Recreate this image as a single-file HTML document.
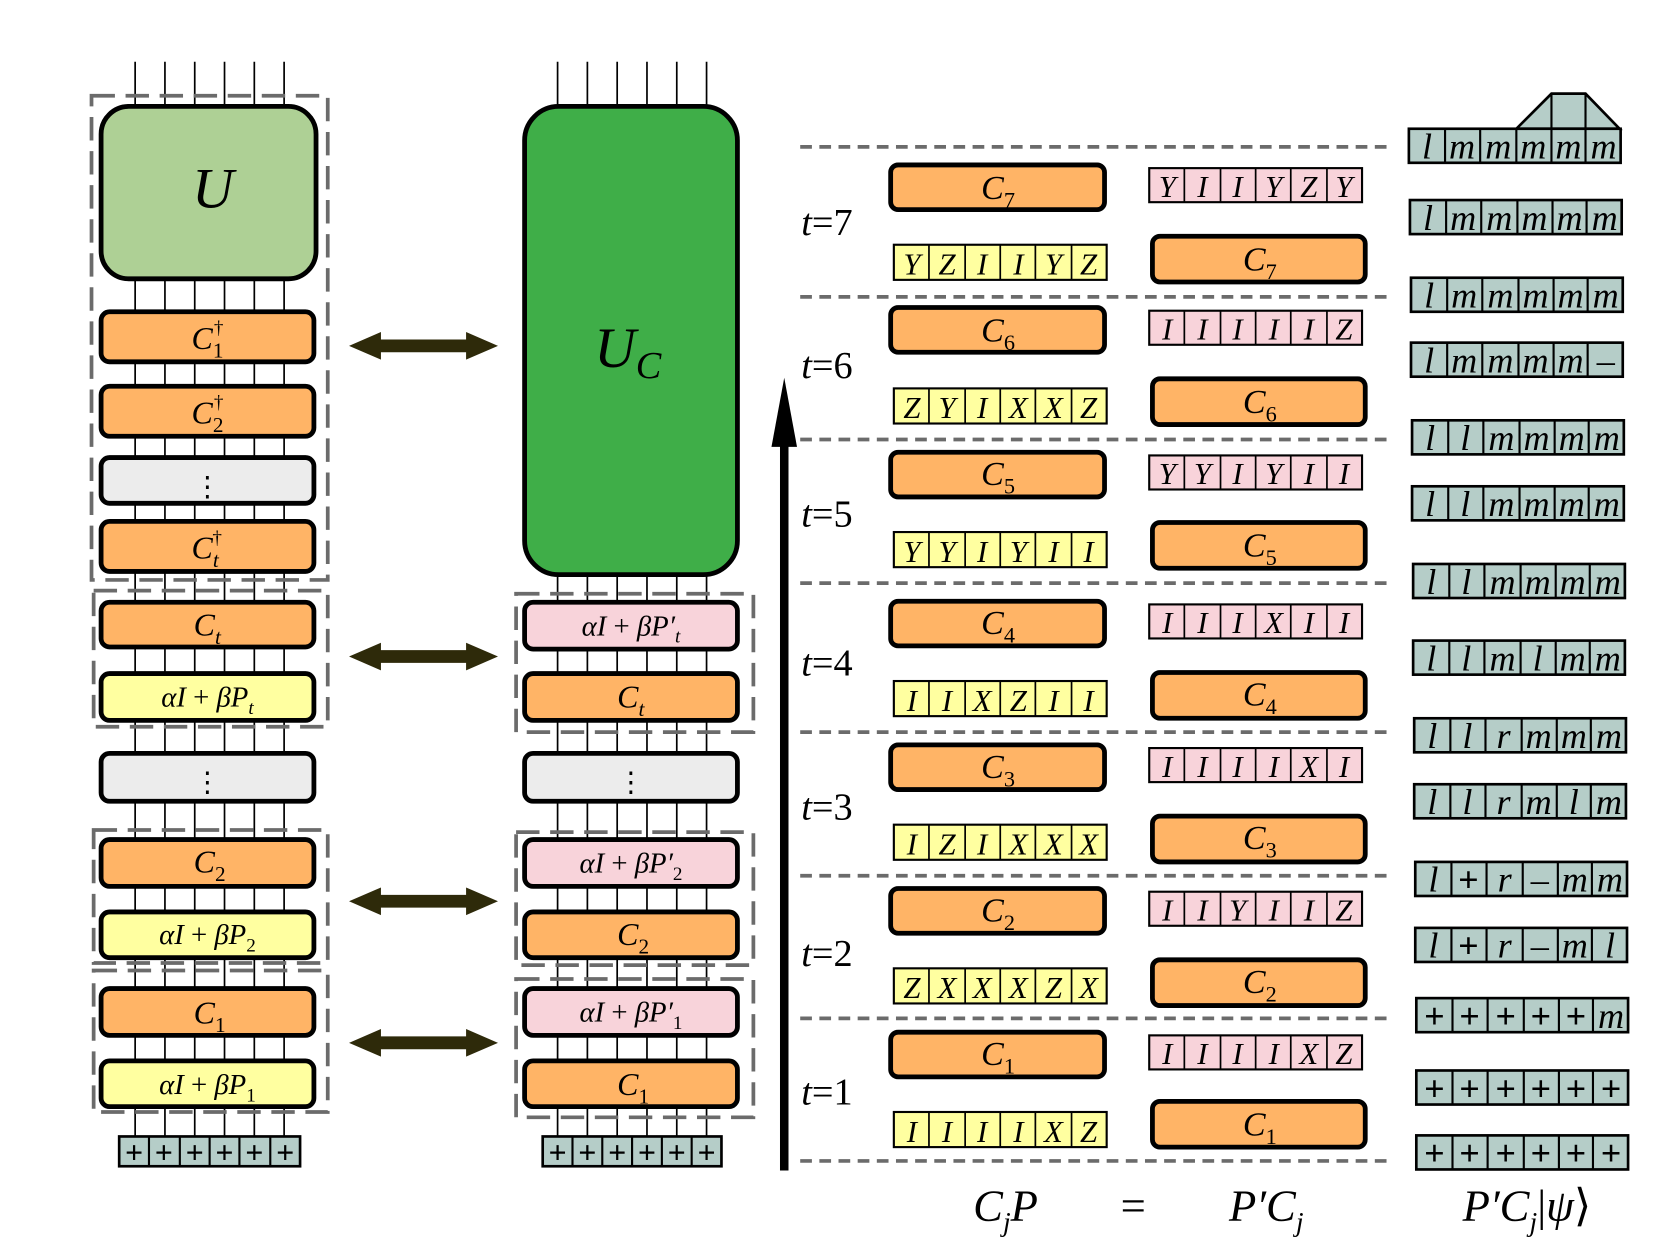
<!DOCTYPE html>
<html><head><meta charset="utf-8"><style>
html,body{margin:0;padding:0;background:#fff;}
svg{display:block;}
text{font-family:"Liberation Serif",serif;fill:#000;}
.c{text-anchor:middle;}
</style></head><body>
<svg width="1660" height="1245" viewBox="0 0 1560 1170" preserveAspectRatio="none" xmlns="http://www.w3.org/2000/svg" font-style="italic">
<defs>
<g id="dbl"><polygon points="0,0 30,-13 30,-6 110,-6 110,-13 140,0 110,13 110,6 30,6 30,13" fill="#2e2a0a"/></g>
</defs>
<g stroke="#000" stroke-width="1.6">
<line x1="127" y1="58" x2="127" y2="1068"/><line x1="155" y1="58" x2="155" y2="1068"/><line x1="183" y1="58" x2="183" y2="1068"/><line x1="211" y1="58" x2="211" y2="1068"/><line x1="239" y1="58" x2="239" y2="1068"/><line x1="267" y1="58" x2="267" y2="1068"/>
<line x1="524" y1="58" x2="524" y2="1068"/><line x1="552" y1="58" x2="552" y2="1068"/><line x1="580" y1="58" x2="580" y2="1068"/><line x1="608" y1="58" x2="608" y2="1068"/><line x1="636" y1="58" x2="636" y2="1068"/><line x1="664" y1="58" x2="664" y2="1068"/>
</g>
<g fill="none" stroke="#6b6b6b" stroke-width="3.5" stroke-dasharray="22,10">
<rect x="86" y="90" width="222" height="455"/>
<rect x="88" y="555" width="220" height="128"/>
<rect x="88" y="780" width="220" height="125"/>
<rect x="88" y="912" width="220" height="133"/>
<rect x="485" y="558" width="223" height="130"/>
<rect x="485" y="782" width="223" height="125"/>
<rect x="485" y="920" width="223" height="130"/>
</g>
<g stroke="#000" stroke-width="4.5">
<rect x="95" y="100" width="202" height="162" rx="26" fill="#aed095"/>
<rect x="95" y="293" width="200" height="47" rx="8" fill="#ffb466"/>
<rect x="95" y="363" width="200" height="47" rx="8" fill="#ffb466"/>
<rect x="95" y="430" width="200" height="43" rx="8" fill="#ececec"/>
<rect x="95" y="490" width="200" height="47" rx="8" fill="#ffb466"/>
<rect x="95" y="566" width="200" height="42" rx="8" fill="#ffb466"/>
<rect x="95" y="633" width="200" height="44" rx="8" fill="#ffffa0"/>
<rect x="95" y="708" width="200" height="45" rx="8" fill="#ececec"/>
<rect x="95" y="789" width="200" height="44" rx="8" fill="#ffb466"/>
<rect x="95" y="857" width="200" height="43" rx="8" fill="#ffffa0"/>
<rect x="95" y="929" width="200" height="44" rx="8" fill="#ffb466"/>
<rect x="95" y="997" width="200" height="43" rx="8" fill="#ffffa0"/>
<rect x="493" y="100" width="200" height="440" rx="32" fill="#3fae48"/>
<rect x="493" y="566" width="200" height="44" rx="8" fill="#f8d3da"/>
<rect x="493" y="633" width="200" height="44" rx="8" fill="#ffb466"/>
<rect x="493" y="708" width="200" height="45" rx="8" fill="#ececec"/>
<rect x="493" y="789" width="200" height="44" rx="8" fill="#f8d3da"/>
<rect x="493" y="857" width="200" height="43" rx="8" fill="#ffb466"/>
<rect x="493" y="929" width="200" height="44" rx="8" fill="#f8d3da"/>
<rect x="493" y="997" width="200" height="43" rx="8" fill="#ffb466"/>
</g>
<g font-size="30">
<text x="200" y="195" class="c" font-size="54">U</text>
<text x="590" y="345" class="c" font-size="54">U<tspan font-size="36" dy="10">C</tspan></text>
<text x="180" y="328">C<tspan font-size="20" dy="8" font-style="normal">1</tspan><tspan font-size="18" dx="-9" dy="-22" font-style="normal">†</tspan></text>
<text x="180" y="398">C<tspan font-size="20" dy="8" font-style="normal">2</tspan><tspan font-size="18" dx="-9" dy="-22" font-style="normal">†</tspan></text>
<text x="180" y="525">C<tspan font-size="20" dy="8">t</tspan><tspan font-size="18" dx="-6" dy="-22" font-style="normal">†</tspan></text>
<text x="195" y="466" class="c" font-style="normal" font-size="26">⋮</text>
<text x="593" y="744" class="c" font-style="normal" font-size="26">⋮</text>
<text x="195" y="744" class="c" font-style="normal" font-size="26">⋮</text>
<text x="182" y="597">C<tspan font-size="20" dy="8">t</tspan></text>
<text x="182" y="820">C<tspan font-size="20" dy="8" font-style="normal">2</tspan></text>
<text x="182" y="962">C<tspan font-size="20" dy="8" font-style="normal">1</tspan></text>
<text x="195" y="664" class="c" font-size="27">αI <tspan font-style="normal">+</tspan> βP<tspan font-size="18" dy="7">t</tspan></text>
<text x="195" y="887" class="c" font-size="27">αI <tspan font-style="normal">+</tspan> βP<tspan font-size="18" dy="7" font-style="normal">2</tspan></text>
<text x="195" y="1028" class="c" font-size="27">αI <tspan font-style="normal">+</tspan> βP<tspan font-size="18" dy="7" font-style="normal">1</tspan></text>
<text x="580" y="665">C<tspan font-size="20" dy="8">t</tspan></text>
<text x="580" y="888">C<tspan font-size="20" dy="8" font-style="normal">2</tspan></text>
<text x="580" y="1029">C<tspan font-size="20" dy="8" font-style="normal">1</tspan></text>
<text x="593" y="597" class="c" font-size="27">αI <tspan font-style="normal">+</tspan> βP′<tspan font-size="18" dy="7">t</tspan></text>
<text x="593" y="820" class="c" font-size="27">αI <tspan font-style="normal">+</tspan> βP′<tspan font-size="18" dy="7" font-style="normal">2</tspan></text>
<text x="593" y="960" class="c" font-size="27">αI <tspan font-style="normal">+</tspan> βP′<tspan font-size="18" dy="7" font-style="normal">1</tspan></text>
</g>
<g stroke="#000" stroke-width="2.5" fill="#b5cdc8">
<rect x="112" y="1068" width="170" height="28"/><rect x="510" y="1068" width="168" height="28"/>
</g>
<g stroke="#000" stroke-width="2">
<line x1="140" y1="1068" x2="140" y2="1096"/><line x1="169" y1="1068" x2="169" y2="1096"/><line x1="197" y1="1068" x2="197" y2="1096"/><line x1="225" y1="1068" x2="225" y2="1096"/><line x1="254" y1="1068" x2="254" y2="1096"/>
<line x1="538" y1="1068" x2="538" y2="1096"/><line x1="566" y1="1068" x2="566" y2="1096"/><line x1="594" y1="1068" x2="594" y2="1096"/><line x1="622" y1="1068" x2="622" y2="1096"/><line x1="650" y1="1068" x2="650" y2="1096"/>
</g>
<g font-size="30" font-style="normal" font-weight="bold">
<text x="126" y="1093" class="c">+</text><text x="154" y="1093" class="c">+</text><text x="183" y="1093" class="c">+</text><text x="211" y="1093" class="c">+</text><text x="239" y="1093" class="c">+</text><text x="268" y="1093" class="c">+</text>
<text x="524" y="1093" class="c">+</text><text x="552" y="1093" class="c">+</text><text x="580" y="1093" class="c">+</text><text x="608" y="1093" class="c">+</text><text x="636" y="1093" class="c">+</text><text x="664" y="1093" class="c">+</text>
</g>
<use href="#dbl" x="328" y="325"/><use href="#dbl" x="328" y="617"/><use href="#dbl" x="328" y="847"/><use href="#dbl" x="328" y="980"/>
<line x1="737" y1="1100" x2="737" y2="410" stroke="#000" stroke-width="8"/>
<polygon points="737,355 725,420 749,420" fill="#000"/>
<g stroke="#6b6b6b" stroke-width="3.5" stroke-dasharray="11,7">
<line x1="752" y1="138" x2="1305" y2="138"/><line x1="752" y1="279" x2="1305" y2="279"/><line x1="752" y1="413" x2="1305" y2="413"/><line x1="752" y1="548" x2="1305" y2="548"/><line x1="752" y1="688" x2="1305" y2="688"/><line x1="752" y1="823" x2="1305" y2="823"/><line x1="752" y1="957" x2="1305" y2="957"/><line x1="752" y1="1091" x2="1305" y2="1091"/>
</g>
<g fill="#ffb466" stroke="#000" stroke-width="4.5">
<g transform="translate(0,138)"><rect x="837" y="17" width="201" height="42" rx="7"/><rect x="1083" y="84" width="200" height="43" rx="7"/></g>
<g transform="translate(0,279)"><rect x="837" y="10" width="201" height="42" rx="7"/><rect x="1083" y="77" width="200" height="43" rx="7"/></g>
<g transform="translate(0,413)"><rect x="837" y="12" width="201" height="42" rx="7"/><rect x="1083" y="78" width="200" height="43" rx="7"/></g>
<g transform="translate(0,548)"><rect x="837" y="17" width="201" height="42" rx="7"/><rect x="1083" y="84" width="200" height="43" rx="7"/></g>
<g transform="translate(0,688)"><rect x="837" y="12" width="201" height="42" rx="7"/><rect x="1083" y="79" width="200" height="43" rx="7"/></g>
<g transform="translate(0,823)"><rect x="837" y="12" width="201" height="42" rx="7"/><rect x="1083" y="79" width="200" height="43" rx="7"/></g>
<g transform="translate(0,957)"><rect x="837" y="13" width="201" height="42" rx="7"/><rect x="1083" y="78" width="200" height="43" rx="7"/></g>
</g>
<g font-size="32">
<text x="922" y="187">C<tspan font-size="21" dy="8" font-style="normal">7</tspan></text><text x="1168" y="254">C<tspan font-size="21" dy="8" font-style="normal">7</tspan></text>
<text x="922" y="321">C<tspan font-size="21" dy="8" font-style="normal">6</tspan></text><text x="1168" y="388">C<tspan font-size="21" dy="8" font-style="normal">6</tspan></text>
<text x="922" y="456">C<tspan font-size="21" dy="8" font-style="normal">5</tspan></text><text x="1168" y="523">C<tspan font-size="21" dy="8" font-style="normal">5</tspan></text>
<text x="922" y="596">C<tspan font-size="21" dy="8" font-style="normal">4</tspan></text><text x="1168" y="663">C<tspan font-size="21" dy="8" font-style="normal">4</tspan></text>
<text x="922" y="731">C<tspan font-size="21" dy="8" font-style="normal">3</tspan></text><text x="1168" y="798">C<tspan font-size="21" dy="8" font-style="normal">3</tspan></text>
<text x="922" y="866">C<tspan font-size="21" dy="8" font-style="normal">2</tspan></text><text x="1168" y="933">C<tspan font-size="21" dy="8" font-style="normal">2</tspan></text>
<text x="922" y="1001">C<tspan font-size="21" dy="8" font-style="normal">1</tspan></text><text x="1168" y="1067">C<tspan font-size="21" dy="8" font-style="normal">1</tspan></text>
</g>
<g font-size="36">
<text x="753" y="221">t<tspan font-style="normal">=7</tspan></text><text x="753" y="355">t<tspan font-style="normal">=6</tspan></text><text x="753" y="495">t<tspan font-style="normal">=5</tspan></text><text x="753" y="635">t<tspan font-style="normal">=4</tspan></text><text x="753" y="770">t<tspan font-style="normal">=3</tspan></text><text x="753" y="908">t<tspan font-style="normal">=2</tspan></text><text x="753" y="1038">t<tspan font-style="normal">=1</tspan></text>
</g>
<g stroke="#000" stroke-width="2">
<rect x="1080" y="158" width="200" height="32" fill="#f8d3da"/><rect x="840" y="230" width="200" height="33" fill="#ffffa0"/>
<rect x="1080" y="292" width="200" height="32" fill="#f8d3da"/><rect x="840" y="365" width="200" height="33" fill="#ffffa0"/>
<rect x="1080" y="428" width="200" height="32" fill="#f8d3da"/><rect x="840" y="500" width="200" height="33" fill="#ffffa0"/>
<rect x="1080" y="568" width="200" height="32" fill="#f8d3da"/><rect x="840" y="640" width="200" height="33" fill="#ffffa0"/>
<rect x="1080" y="703" width="200" height="32" fill="#f8d3da"/><rect x="840" y="775" width="200" height="33" fill="#ffffa0"/>
<rect x="1080" y="838" width="200" height="32" fill="#f8d3da"/><rect x="840" y="910" width="200" height="33" fill="#ffffa0"/>
<rect x="1080" y="973" width="200" height="32" fill="#f8d3da"/><rect x="840" y="1045" width="200" height="33" fill="#ffffa0"/>
</g>
<g stroke="#000" stroke-width="1.6">
<path d="M1113 158v32M1147 158v32M1180 158v32M1213 158v32M1247 158v32 M873 230v33M907 230v33M940 230v33M973 230v33M1007 230v33
M1113 292v32M1147 292v32M1180 292v32M1213 292v32M1247 292v32 M873 365v33M907 365v33M940 365v33M973 365v33M1007 365v33
M1113 428v32M1147 428v32M1180 428v32M1213 428v32M1247 428v32 M873 500v33M907 500v33M940 500v33M973 500v33M1007 500v33
M1113 568v32M1147 568v32M1180 568v32M1213 568v32M1247 568v32 M873 640v33M907 640v33M940 640v33M973 640v33M1007 640v33
M1113 703v32M1147 703v32M1180 703v32M1213 703v32M1247 703v32 M873 775v33M907 775v33M940 775v33M973 775v33M1007 775v33
M1113 838v32M1147 838v32M1180 838v32M1213 838v32M1247 838v32 M873 910v33M907 910v33M940 910v33M973 910v33M1007 910v33
M1113 973v32M1147 973v32M1180 973v32M1213 973v32M1247 973v32 M873 1045v33M907 1045v33M940 1045v33M973 1045v33M1007 1045v33"/>
</g>
<g font-size="29" class="c">
<text y="185"><tspan x="1097">Y</tspan><tspan x="1130">I</tspan><tspan x="1163">I</tspan><tspan x="1197">Y</tspan><tspan x="1230">Z</tspan><tspan x="1263">Y</tspan></text>
<text y="258"><tspan x="857">Y</tspan><tspan x="890">Z</tspan><tspan x="923">I</tspan><tspan x="957">I</tspan><tspan x="990">Y</tspan><tspan x="1023">Z</tspan></text>
<text y="319"><tspan x="1097">I</tspan><tspan x="1130">I</tspan><tspan x="1163">I</tspan><tspan x="1197">I</tspan><tspan x="1230">I</tspan><tspan x="1263">Z</tspan></text>
<text y="393"><tspan x="857">Z</tspan><tspan x="890">Y</tspan><tspan x="923">I</tspan><tspan x="957">X</tspan><tspan x="990">X</tspan><tspan x="1023">Z</tspan></text>
<text y="455"><tspan x="1097">Y</tspan><tspan x="1130">Y</tspan><tspan x="1163">I</tspan><tspan x="1197">Y</tspan><tspan x="1230">I</tspan><tspan x="1263">I</tspan></text>
<text y="528"><tspan x="857">Y</tspan><tspan x="890">Y</tspan><tspan x="923">I</tspan><tspan x="957">Y</tspan><tspan x="990">I</tspan><tspan x="1023">I</tspan></text>
<text y="595"><tspan x="1097">I</tspan><tspan x="1130">I</tspan><tspan x="1163">I</tspan><tspan x="1197">X</tspan><tspan x="1230">I</tspan><tspan x="1263">I</tspan></text>
<text y="668"><tspan x="857">I</tspan><tspan x="890">I</tspan><tspan x="923">X</tspan><tspan x="957">Z</tspan><tspan x="990">I</tspan><tspan x="1023">I</tspan></text>
<text y="730"><tspan x="1097">I</tspan><tspan x="1130">I</tspan><tspan x="1163">I</tspan><tspan x="1197">I</tspan><tspan x="1230">X</tspan><tspan x="1263">I</tspan></text>
<text y="803"><tspan x="857">I</tspan><tspan x="890">Z</tspan><tspan x="923">I</tspan><tspan x="957">X</tspan><tspan x="990">X</tspan><tspan x="1023">X</tspan></text>
<text y="865"><tspan x="1097">I</tspan><tspan x="1130">I</tspan><tspan x="1163">Y</tspan><tspan x="1197">I</tspan><tspan x="1230">I</tspan><tspan x="1263">Z</tspan></text>
<text y="938"><tspan x="857">Z</tspan><tspan x="890">X</tspan><tspan x="923">X</tspan><tspan x="957">X</tspan><tspan x="990">Z</tspan><tspan x="1023">X</tspan></text>
<text y="1000"><tspan x="1097">I</tspan><tspan x="1130">I</tspan><tspan x="1163">I</tspan><tspan x="1197">I</tspan><tspan x="1230">X</tspan><tspan x="1263">Z</tspan></text>
<text y="1073"><tspan x="857">I</tspan><tspan x="890">I</tspan><tspan x="923">I</tspan><tspan x="957">I</tspan><tspan x="990">X</tspan><tspan x="1023">Z</tspan></text>
</g>
<g stroke="#000" stroke-width="2.5" fill="#b5cdc8">
<polygon points="1425,121 1458,88 1490,88 1522,121"/>
<rect x="1324" y="121" width="199" height="32"/><rect x="1325" y="188" width="199" height="32"/><rect x="1326" y="261" width="199" height="32"/><rect x="1326" y="322" width="199" height="32"/><rect x="1327" y="395" width="199" height="32"/><rect x="1327" y="457" width="199" height="32"/><rect x="1328" y="530" width="199" height="32"/><rect x="1328" y="602" width="199" height="32"/><rect x="1329" y="675" width="199" height="32"/><rect x="1329" y="737" width="199" height="32"/><rect x="1330" y="810" width="199" height="32"/><rect x="1330" y="872" width="199" height="32"/><rect x="1331" y="938" width="199" height="32"/><rect x="1331" y="1006" width="199" height="32"/><rect x="1331" y="1067" width="199" height="32"/>
</g>
<g stroke="#000" stroke-width="2">
<path d="M1458 88v33M1490 88v33"/>
<path d="M1358 121v32M1391 121v32M1425 121v32M1458 121v32M1490 121v32
M1359 188v32M1392 188v32M1426 188v32M1459 188v32M1491 188v32
M1360 261v32M1393 261v32M1427 261v32M1460 261v32M1492 261v32
M1360 322v32M1393 322v32M1427 322v32M1460 322v32M1492 322v32
M1361 395v32M1394 395v32M1428 395v32M1461 395v32M1493 395v32
M1361 457v32M1394 457v32M1428 457v32M1461 457v32M1493 457v32
M1362 530v32M1395 530v32M1429 530v32M1462 530v32M1494 530v32
M1362 602v32M1395 602v32M1429 602v32M1462 602v32M1494 602v32
M1363 675v32M1396 675v32M1430 675v32M1463 675v32M1495 675v32
M1363 737v32M1396 737v32M1430 737v32M1463 737v32M1495 737v32
M1364 810v32M1397 810v32M1431 810v32M1464 810v32M1496 810v32
M1364 872v32M1397 872v32M1431 872v32M1464 872v32M1496 872v32
M1365 938v32M1398 938v32M1432 938v32M1465 938v32M1497 938v32
M1365 1006v32M1398 1006v32M1432 1006v32M1465 1006v32M1497 1006v32
M1365 1067v32M1398 1067v32M1432 1067v32M1465 1067v32M1497 1067v32"/>
</g>
<g font-size="34" class="c">
<text y="149"><tspan x="1341">l</tspan><tspan x="1374">m</tspan><tspan x="1408">m</tspan><tspan x="1441">m</tspan><tspan x="1474">m</tspan><tspan x="1507">m</tspan></text>
<text y="216"><tspan x="1342">l</tspan><tspan x="1375">m</tspan><tspan x="1409">m</tspan><tspan x="1442">m</tspan><tspan x="1475">m</tspan><tspan x="1508">m</tspan></text>
<text y="289"><tspan x="1343">l</tspan><tspan x="1376">m</tspan><tspan x="1410">m</tspan><tspan x="1443">m</tspan><tspan x="1476">m</tspan><tspan x="1509">m</tspan></text>
<text y="350"><tspan x="1343">l</tspan><tspan x="1376">m</tspan><tspan x="1410">m</tspan><tspan x="1443">m</tspan><tspan x="1476">m</tspan><tspan x="1509" font-style="normal">–</tspan></text>
<text y="423"><tspan x="1344">l</tspan><tspan x="1377">l</tspan><tspan x="1411">m</tspan><tspan x="1444">m</tspan><tspan x="1477">m</tspan><tspan x="1510">m</tspan></text>
<text y="485"><tspan x="1344">l</tspan><tspan x="1377">l</tspan><tspan x="1411">m</tspan><tspan x="1444">m</tspan><tspan x="1477">m</tspan><tspan x="1510">m</tspan></text>
<text y="558"><tspan x="1345">l</tspan><tspan x="1378">l</tspan><tspan x="1412">m</tspan><tspan x="1445">m</tspan><tspan x="1478">m</tspan><tspan x="1511">m</tspan></text>
<text y="630"><tspan x="1345">l</tspan><tspan x="1378">l</tspan><tspan x="1412">m</tspan><tspan x="1445">l</tspan><tspan x="1478">m</tspan><tspan x="1511">m</tspan></text>
<text y="703"><tspan x="1346">l</tspan><tspan x="1379">l</tspan><tspan x="1413">r</tspan><tspan x="1446">m</tspan><tspan x="1479">m</tspan><tspan x="1512">m</tspan></text>
<text y="765"><tspan x="1346">l</tspan><tspan x="1379">l</tspan><tspan x="1413">r</tspan><tspan x="1446">m</tspan><tspan x="1479">l</tspan><tspan x="1512">m</tspan></text>
<text y="838"><tspan x="1347">l</tspan><tspan x="1380" font-style="normal" font-weight="bold">+</tspan><tspan x="1414">r</tspan><tspan x="1447" font-style="normal">–</tspan><tspan x="1480">m</tspan><tspan x="1513">m</tspan></text>
<text y="900"><tspan x="1347">l</tspan><tspan x="1380" font-style="normal" font-weight="bold">+</tspan><tspan x="1414">r</tspan><tspan x="1447" font-style="normal">–</tspan><tspan x="1480">m</tspan><tspan x="1513">l</tspan></text>
<text y="966" font-style="normal" font-weight="bold"><tspan x="1348">+</tspan><tspan x="1381">+</tspan><tspan x="1415">+</tspan><tspan x="1448">+</tspan><tspan x="1481">+</tspan><tspan x="1514" font-style="italic" font-weight="normal">m</tspan></text>
<text y="1034" font-style="normal" font-weight="bold"><tspan x="1348">+</tspan><tspan x="1381">+</tspan><tspan x="1415">+</tspan><tspan x="1448">+</tspan><tspan x="1481">+</tspan><tspan x="1514">+</tspan></text>
<text y="1095" font-style="normal" font-weight="bold"><tspan x="1348">+</tspan><tspan x="1381">+</tspan><tspan x="1415">+</tspan><tspan x="1448">+</tspan><tspan x="1481">+</tspan><tspan x="1514">+</tspan></text>
</g>
<g font-size="42" class="c">
<text x="945" y="1147">C<tspan font-size="26" dy="10">j</tspan><tspan dy="-10">P</tspan></text>
<text x="1065" y="1147" font-style="normal">=</text>
<text x="1190" y="1147">P′C<tspan font-size="26" dy="10">j</tspan></text>
<text x="1435" y="1147">P′C<tspan font-size="26" dy="10">j</tspan><tspan dy="-10" font-style="normal">|</tspan>ψ<tspan font-style="normal">⟩</tspan></text>
</g>
</svg>
</body></html>
